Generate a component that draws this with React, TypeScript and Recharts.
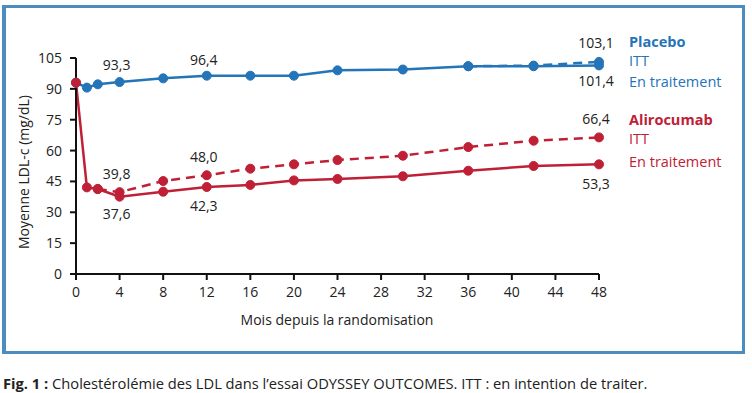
import React from "react";
import { LineChart, Line, XAxis, YAxis, ReferenceDot } from "recharts";

const months = [0, 1, 2, 4, 8, 12, 16, 20, 24, 30, 36, 42, 48];
const placeboOnTreatment = [93.0, 90.6, 92.2, 93.3, 95.1, 96.4, 96.4, 96.4, 99.0, 99.4, 101.0, 101.0, 101.4];
const placeboITT = [null, null, null, null, null, null, null, null, null, null, 101.0, 101.3, 103.1];
const aliroOnTreatment = [93.0, 42.1, 41.3, 37.6, 40.0, 42.3, 43.3, 45.5, 46.2, 47.5, 50.2, 52.5, 53.3];
const aliroITT = [null, null, 41.3, 39.8, 45.2, 48.0, 51.2, 53.3, 55.4, 57.5, 61.7, 64.8, 66.4];

const xTicks = [0, 4, 8, 12, 16, 20, 24, 28, 32, 36, 40, 44, 48];
const yTicks = [0, 15, 30, 45, 60, 75, 90, 105];

const annotations = [
  { month: 4, value: 93.3, text: "93,3", dy: -17 },
  { month: 12, value: 96.4, text: "96,4", dy: -16 },
  { month: 4, value: 39.8, text: "39,8", dy: -18 },
  { month: 12, value: 48.0, text: "48,0", dy: -18 },
  { month: 4, value: 37.6, text: "37,6", dy: 17 },
  { month: 12, value: 42.3, text: "42,3", dy: 19 },
  { month: 48, value: 103.1, text: "103,1", dy: -19 },
  { month: 48, value: 101.4, text: "101,4", dy: 16 },
  { month: 48, value: 66.4, text: "66,4", dy: -18 },
  { month: 48, value: 53.3, text: "53,3", dy: 20 },
];

const data = months.map((m, i) => ({
  month: m,
  placeboOT: placeboOnTreatment[i],
  placeboITT: placeboITT[i],
  aliroOT: aliroOnTreatment[i],
  aliroITT: aliroITT[i],
}));

const BLUE = "#2474b8";
const RED = "#bf2036";
const FONT = "'Open Sans', Roboto, 'DejaVu Sans', sans-serif";

const AnnoLabel = (props: any) => {
  const { viewBox, text, dy } = props;
  const cx = viewBox.x + (viewBox.width || 0) / 2;
  const cy = viewBox.y + (viewBox.height || 0) / 2;
  return (
    <text x={cx - 3} y={cy + dy + 5} textAnchor="middle" fontSize={14} fontFamily={FONT} fill="#222">
      {text}
    </text>
  );
};

const legendItems = [
  { text: "Placebo", y: 41.5, color: BLUE, bold: true },
  { text: "ITT", y: 60.5, color: BLUE, bold: false },
  { text: "En traitement", y: 81.5, color: BLUE, bold: false },
  { text: "Alirocumab", y: 119.5, color: RED, bold: true },
  { text: "ITT", y: 139, color: RED, bold: false },
  { text: "En traitement", y: 162, color: RED, bold: false },
];

const dotStyle = (c: string) => ({ r: 4.5, fill: c, stroke: c, strokeWidth: 1, strokeDasharray: "0" });

export default function App() {
  return (
    <div style={{ position: "fixed", left: 0, top: 0, width: 752, height: 393, background: "#fff", fontFamily: FONT }}>
      <div
        style={{
          position: "absolute",
          left: 2,
          top: 5,
          width: 745 - 2,
          height: 354 - 5,
          boxSizing: "border-box",
          border: "3px solid #4b8dc1",
          borderLeftWidth: 4,
        }}
      />
      <div style={{ position: "absolute", left: 0, top: 0 }}>
        <LineChart width={752} height={393} data={data} margin={{ top: 58, right: 153, bottom: 89, left: 16 }}>
          <XAxis
            dataKey="month"
            type="number"
            domain={[0, 48]}
            ticks={xTicks}
            height={30}
            stroke="#111"
            strokeWidth={2}
            tickSize={6}
            tickMargin={7}
            tick={{ fill: "#222", fontSize: 14, fontFamily: FONT }}
            interval={0}
          />
          <YAxis
            type="number"
            domain={[0, 105]}
            ticks={yTicks}
            width={60}
            stroke="#111"
            strokeWidth={2}
            tickSize={6}
            tickMargin={8}
            tick={{ fill: "#222", fontSize: 14, fontFamily: FONT }}
            interval={0}
          />
          <Line dataKey="placeboITT" stroke={BLUE} strokeWidth={2.5} strokeDasharray="9 6" dot={dotStyle(BLUE)} isAnimationActive={false} />
          <Line dataKey="placeboOT" stroke={BLUE} strokeWidth={2.5} dot={dotStyle(BLUE)} isAnimationActive={false} />
          <Line dataKey="aliroITT" stroke={RED} strokeWidth={2.5} strokeDasharray="9 6" dot={dotStyle(RED)} isAnimationActive={false} />
          <Line dataKey="aliroOT" stroke={RED} strokeWidth={2.5} dot={dotStyle(RED)} isAnimationActive={false} />
          {annotations.map((a, i) => (
            <ReferenceDot
              key={i}
              x={a.month}
              y={a.value}
              r={0}
              fill="none"
              stroke="none"
              label={<AnnoLabel text={a.text} dy={a.dy} />}
            />
          ))}
        </LineChart>
      </div>
      {legendItems.map((l, i) => (
        <div
          key={i}
          style={{
            position: "absolute",
            left: 629,
            top: l.y - 7,
            height: 14,
            lineHeight: "14px",
            fontSize: 14.5,
            color: l.color,
            fontWeight: l.bold ? 700 : 400,
            whiteSpace: "nowrap",
          }}
        >
          {l.text}
        </div>
      ))}
      <div
        style={{
          position: "absolute",
          left: 24 - 100,
          top: 172 - 8,
          width: 200,
          textAlign: "center",
          lineHeight: "16px",
          fontSize: 14,
          color: "#222",
          transform: "rotate(-90deg)",
          whiteSpace: "nowrap",
        }}
      >
        Moyenne LDL-c (mg/dL)
      </div>
      <div
        style={{
          position: "absolute",
          left: 337 - 150,
          top: 320 - 8,
          width: 300,
          textAlign: "center",
          lineHeight: "16px",
          fontSize: 14,
          color: "#222",
          whiteSpace: "nowrap",
        }}
      >
        Mois depuis la randomisation
      </div>
      <div
        style={{
          position: "absolute",
          left: 3,
          top: 383 - 9,
          lineHeight: "18px",
          fontSize: 14.7,
          color: "#222",
          whiteSpace: "nowrap",
        }}
      >
        <b>Fig. 1 :</b> Cholestérolémie des LDL dans l’essai ODYSSEY OUTCOMES. ITT : en intention de traiter.
      </div>
    </div>
  );
}
